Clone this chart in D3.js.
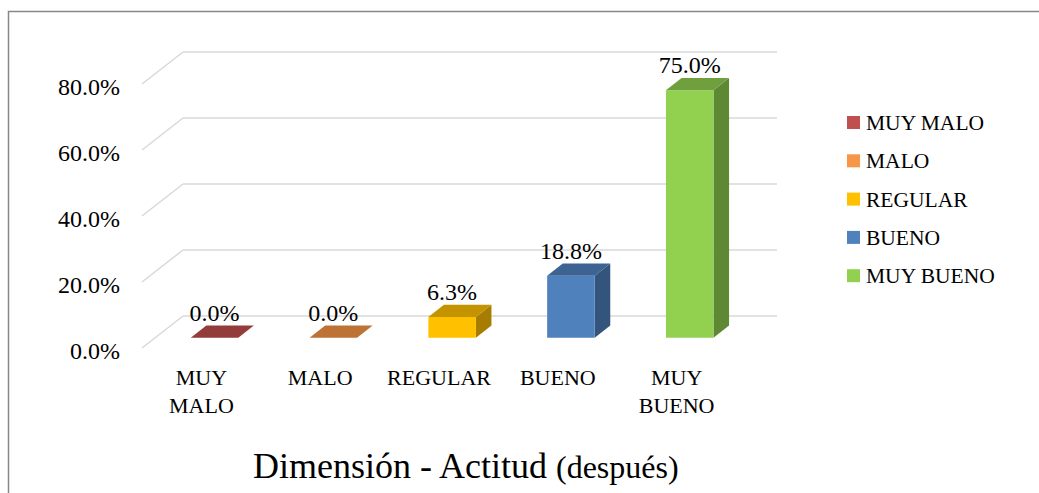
<!DOCTYPE html>
<html>
<head>
<meta charset="utf-8">
<script src="https://cdn.jsdelivr.net/npm/d3@7/dist/d3.min.js"></script>
<style>
  html, body { margin: 0; padding: 0; background: #fff; }
  svg { display: block; }
  text { font-family: "Liberation Serif", "Times New Roman", serif; fill: #000; }
  .grid line { stroke: #d9d9d9; stroke-width: 1.5; }
</style>
</head>
<body>
<div id="chart"></div>
<script>
const categories = ['MUY MALO', 'MALO', 'REGULAR', 'BUENO', 'MUY BUENO']
const values = [0.0, 0.0, 6.3, 18.8, 75.0]
const yTicks = [0, 20, 40, 60, 80]
const colors = ['#c0504d', '#f79646', '#ffc000', '#4f81bd', '#92d050']

const width = 1039, height = 493

// depth of the 3d floor (front edge -> back wall)
const depthX = 41, depthY = 32
const front = 0.32, back = 0.70

const xScale = d3.scaleBand()
  .domain(categories)
  .range([142, 736])
  .paddingInner(0.6)
  .paddingOuter(0.3)

const yScale = d3.scaleLinear()
  .domain([0, 80])
  .range([348, 84])

const proj = (x, y, d) => [x + d * depthX, y - d * depthY]
const pts = arr => arr.map(p => p.join(',')).join(' ')

const svg = d3.select('#chart').append('svg')
  .attr('width', width)
  .attr('height', height)

svg.append('rect')
  .attr('x', 8.5).attr('y', 11.5)
  .attr('width', 1200).attr('height', 600)
  .attr('fill', '#fff')
  .attr('stroke', '#878787')
  .attr('stroke-width', 1.5)

// back wall gridlines + diagonal side wall lines
const grid = svg.append('g').classed('grid', true)
yTicks.forEach(t => {
  const y = yScale(t)
  const r0 = xScale.range()[0], r1 = xScale.range()[1]
  const a = proj(r0, y, 1), b = proj(r1, y, 1)
  grid.append('line')
    .attr('x1', a[0]).attr('y1', a[1])
    .attr('x2', b[0]).attr('y2', b[1])
  grid.append('line')
    .attr('x1', r0).attr('y1', y)
    .attr('x2', a[0]).attr('y2', a[1])
})

// y axis labels
const yAxis = d3.axisLeft(yScale)
  .tickValues(yTicks)
  .tickSize(0)
  .tickPadding(22)
  .tickFormat(d => d.toFixed(1) + '%')
const yg = svg.append('g')
  .attr('transform', 'translate(' + xScale.range()[0] + ', 0)')
  .call(yAxis)
yg.attr('font-family', null)
yg.select('.domain').remove()
yg.selectAll('text')
  .attr('dy', '0.42em')
  .style('font-size', '24px')

// bars
const bw = xScale.bandwidth()
const bars = svg.append('g').classed('bars', true)
  .selectAll('g')
  .data(categories).enter()
  .append('g')

bars.each(function(c, i) {
  const g = d3.select(this)
  const x0 = xScale(c), x1 = x0 + bw
  const yb = yScale(0), yt = yScale(values[i])
  const base = d3.color(colors[i])
  if (values[i] > 0) {
    g.append('polygon')
      .attr('points', pts([proj(x1, yt, front), proj(x1, yt, back), proj(x1, yb, back), proj(x1, yb, front)]))
      .attr('fill', base.darker(1.2))
    g.append('polygon')
      .attr('points', pts([proj(x0, yt, front), proj(x1, yt, front), proj(x1, yb, front), proj(x0, yb, front)]))
      .attr('fill', base)
  }
  g.append('polygon')
    .attr('points', pts([proj(x0, yt, front), proj(x1, yt, front), proj(x1, yt, back), proj(x0, yt, back)]))
    .attr('fill', base.darker(0.75))

  g.append('text')
    .attr('x', proj(x0 + bw / 2, yt, front)[0])
    .attr('y', proj(x0, yt, back)[1] - 5)
    .attr('text-anchor', 'middle')
    .style('font-size', '24px')
    .text(values[i].toFixed(1) + '%')
})

// category labels (wrapped on spaces)
const cat = svg.append('g').classed('x-labels', true)
  .selectAll('text')
  .data(categories).enter()
  .append('text')
  .attr('text-anchor', 'middle')
  .style('font-size', '22px')
  .attr('transform', d => 'translate(' + (xScale(d) + bw / 2) + ', 385)')
cat.each(function(d) {
  d.split(' ').forEach((w, k) => {
    d3.select(this).append('tspan')
      .attr('x', 0)
      .attr('y', k * 28)
      .text(w)
  })
})

// legend
const legend = svg.append('g').classed('legend', true)
  .attr('transform', 'translate(847, 116)')
  .selectAll('g')
  .data(categories).enter()
  .append('g')
  .attr('transform', (d, i) => 'translate(0, ' + (i * 38.3) + ')')
legend.append('rect')
  .attr('width', 13)
  .attr('height', 13)
  .attr('fill', (d, i) => colors[i])
legend.append('text')
  .attr('x', 19)
  .attr('y', 14)
  .style('font-size', '21.5px')
  .text(d => d)

// title
const title = svg.append('text')
  .attr('x', 253)
  .attr('y', 478)
  .style('font-size', '36px')
title.append('tspan').text('Dimensión - Actitud ')
title.append('tspan').style('font-size', '32px').text('(después)')
</script>
</body>
</html>
